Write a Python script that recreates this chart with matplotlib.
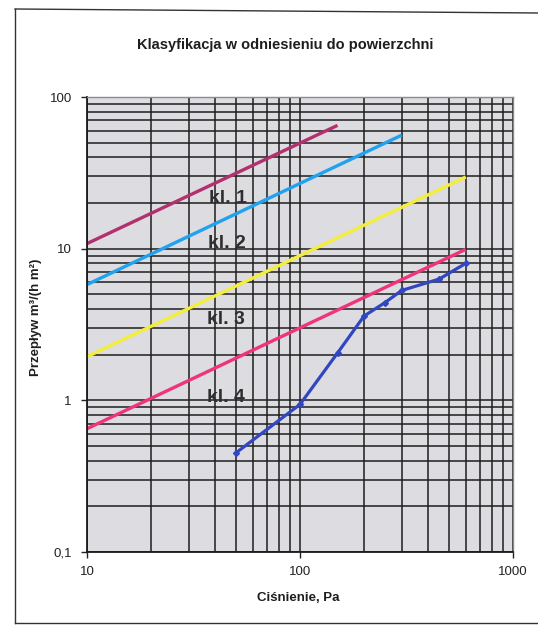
import matplotlib
matplotlib.use("Agg")
import matplotlib.pyplot as plt
from matplotlib.lines import Line2D
from matplotlib.ticker import LogLocator, NullFormatter

plt.rcParams['font.family'] = ['Liberation Sans', 'DejaVu Sans']

# ---- data ----
title = "Klasyfikacja w odniesieniu do powierzchni"
xlabel = "Ciśnienie, Pa"
ylabel = "Przepływ m³/(h m²)"

class_names = ["kl. 1", "kl. 2", "kl. 3", "kl. 4"]
kl1_x = [10, 150]
kl1_y = [10.8, 65]
kl2_x = [10, 300]
kl2_y = [5.8, 56]
kl3_x = [10, 600]
kl3_y = [1.94, 29.7]
kl4_x = [10, 600]
kl4_y = [0.65, 9.9]

meas_x = [50, 100, 150, 200, 250, 300, 450, 600]
meas_y = [0.45, 0.94, 2.05, 3.6, 4.4, 5.3, 6.3, 8.0]

x_ticks = [10, 100, 1000]
x_tick_labels = ["10", "100", "1000"]
y_ticks = [0.1, 1, 10, 100]
y_tick_labels = ["0,1", "1", "10", "100"]

# ---- figure ----
fig = plt.figure(figsize=(5.38, 6.30), dpi=100)
fig.patch.set_facecolor('white')

ax = fig.add_axes([87/538, 1 - 552/630, 426/538, 455/630])
ax.set_facecolor('#dcdce1')
ax.set_xscale('log')
ax.set_yscale('log')
ax.set_xlim(10, 1000)
ax.set_ylim(0.1, 100)

grid_color = '#1e1e1e'
ax.xaxis.set_minor_locator(LogLocator(base=10, subs=range(2, 10)))
ax.yaxis.set_minor_locator(LogLocator(base=10, subs=range(2, 10)))
ax.xaxis.set_minor_formatter(NullFormatter())
ax.yaxis.set_minor_formatter(NullFormatter())
ax.grid(True, which='both', color=grid_color, linewidth=1.1)
ax.set_axisbelow(True)

ax.set_xticks(x_ticks)
ax.set_xticklabels(x_tick_labels)
ax.set_yticks(y_ticks)
ax.set_yticklabels(y_tick_labels)
ax.tick_params(which='minor', length=0)
ax.tick_params(which='major', length=4, width=1, color='#222222',
               labelsize=9.5, labelcolor='#222222')
ax.tick_params(axis='x', pad=6)
ax.tick_params(axis='y', pad=7)

for side in ['left', 'bottom']:
    ax.spines[side].set_color('#1a1a1a')
    ax.spines[side].set_linewidth(1.3)
for side in ['top', 'right']:
    ax.spines[side].set_color('#8a8a8e')
    ax.spines[side].set_linewidth(1.0)

lw = 2.4
ax.plot(kl1_x, kl1_y, color='#b3306f', lw=lw, solid_capstyle='butt')
ax.plot(kl2_x, kl2_y, color='#20a2f0', lw=lw, solid_capstyle='butt')
ax.plot(kl3_x, kl3_y, color='#f3ee3c', lw=lw, solid_capstyle='butt')
ax.plot(kl4_x, kl4_y, color='#f0337c', lw=lw, solid_capstyle='butt')
ax.plot(meas_x, meas_y, color='#3346c2', lw=2.3, marker='D', markersize=3)

label_pos = [(0.331, 0.778), (0.329, 0.677), (0.326, 0.51), (0.326, 0.34)]
for name, (px, py) in zip(class_names, label_pos):
    ax.text(px, py, name, transform=ax.transAxes, ha='center', va='center',
            fontsize=14, fontweight='bold', color='#2e2e2e')

fig.text(285/538, 1 - 45/630, title, ha='center', va='center',
         fontsize=10.5, fontweight='bold', color='#1e1e1e')
fig.text(298/538, 1 - 598/630, xlabel, ha='center', va='center',
         fontsize=9.5, fontweight='bold', color='#1e1e1e')
fig.text(36/538, 1 - 317/630, ylabel, ha='center', va='center',
         rotation=90, fontsize=9.5, fontweight='bold', color='#1e1e1e')

# scanned page frame
frame_kw = dict(color='#333333', linewidth=1.0, transform=fig.transFigure)
fig.add_artist(Line2D([15/538, 15/538], [1 - 9/630, 1 - 623/630], **frame_kw))
fig.add_artist(Line2D([15/538, 1.0], [1 - 9/630, 1 - 13/630], **frame_kw))
fig.add_artist(Line2D([15/538, 1.0], [1 - 623/630, 1 - 623/630], **frame_kw))

fig.savefig('out.png', dpi=100)
